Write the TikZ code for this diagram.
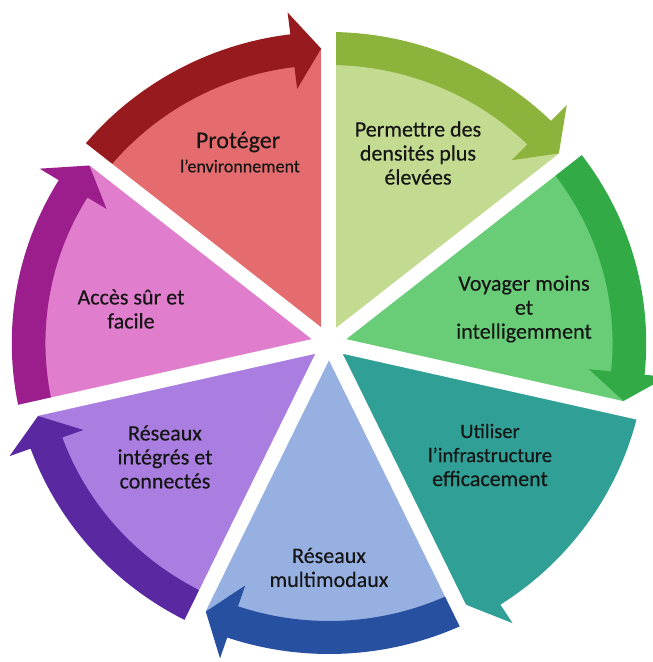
\documentclass[tikz,border=0pt]{standalone}
\usepackage{fontspec}
\setmainfont{Carlito}[BoldFont=Carlito, BoldFeatures={FakeBold=0.35}]

% wedge fills and arrow-band colours, clockwise from the top-left wedge
\definecolor{wA}{HTML}{E46C6E}\definecolor{bA}{HTML}{961A1E}
\definecolor{wB}{HTML}{C3DA91}\definecolor{bB}{HTML}{8CB43C}
\definecolor{wC}{HTML}{69CD78}\definecolor{bC}{HTML}{32AA46}
\definecolor{wD}{HTML}{30A096}\definecolor{bD}{HTML}{30A096}
\definecolor{wE}{HTML}{96B0E2}\definecolor{bE}{HTML}{2850A0}
\definecolor{wF}{HTML}{AA7DE1}\definecolor{bF}{HTML}{5A28A0}
\definecolor{wG}{HTML}{E17DCD}\definecolor{bG}{HTML}{9B1E8C}
\definecolor{txt}{HTML}{151515}

\begin{document}
\begin{tikzpicture}[x=1pt,y=1pt,
  lbl/.style={text=txt, align=center, inner sep=0pt, font=\bfseries\fontsize{22}{24}\selectfont},
  gapline/.style={white, line width=15pt, line cap=round}]
\useasboundingbox (-329,-319) rectangle (324,343);

\begin{scope}[xscale=1.02]
  % pie wedges
  \foreach \k/\wc in {0/wA,1/wB,2/wC,3/wD,4/wE,5/wF,6/wG} {
    \pgfmathsetmacro\sa{141.4286-51.4286*\k}
    \pgfmathsetmacro\ea{\sa-51.4286}
    \fill[\wc] (0,0) -- (\sa:294) arc[start angle=\sa, end angle=\ea, radius=294] -- cycle;
  }
  % curved clockwise arrows along the rim
  \foreach \k/\bc in {0/bA,1/bB,2/bC,3/bD,4/bE,5/bF,6/bG} {
    \pgfmathsetmacro\sa{141.4286-51.4286*\k}
    \pgfmathsetmacro\ea{\sa-51.4286}
    \pgfmathsetmacro\tip{\ea+1.5}
    \pgfmathsetmacro\hb{\tip+5.5}
    \fill[\bc] (\sa:311) arc[start angle=\sa, end angle=\hb, radius=311]
      -- (\hb:333) -- (\tip:294.5) -- (\hb:256) -- (\hb:278)
      arc[start angle=\hb, end angle=\sa, radius=278] -- cycle;
  }
  % white gaps between the segments
  \foreach \k in {0,...,6} {
    \draw[gapline] (0,0) -- ({141.4286-51.4286*\k}:345);
  }
\end{scope}

% segment labels
\node[lbl, font=\bfseries\fontsize{24}{24}\selectfont] (t1) at (-91,201) {Protéger};
\node[lbl, font=\bfseries\fontsize{18}{20}\selectfont] (t1b) at (-89,177) {l’environnement};
\node[lbl] (t2) at (89,190) {Permettre des\\densités plus\\élevées};
\node[lbl] (t3) at (195,34) {Voyager moins\\et\\intelligemment};
\node[lbl] (t4) at (161,-112) {{\fontsize{20.5}{24}\selectfont Utiliser}\\{\fontsize{20.5}{24}\selectfont l’infrastructure}\\efficacement};
\node[lbl] (t5) at (0,-224.5) {Réseaux\\multimodaux};
\node[lbl] (t6) at (-164,-114) {Réseaux\\intégrés et\\connectés};
\node[lbl] (t7) at (-198,34) {Accès sûr et\\facile};
\end{tikzpicture}
\end{document}
